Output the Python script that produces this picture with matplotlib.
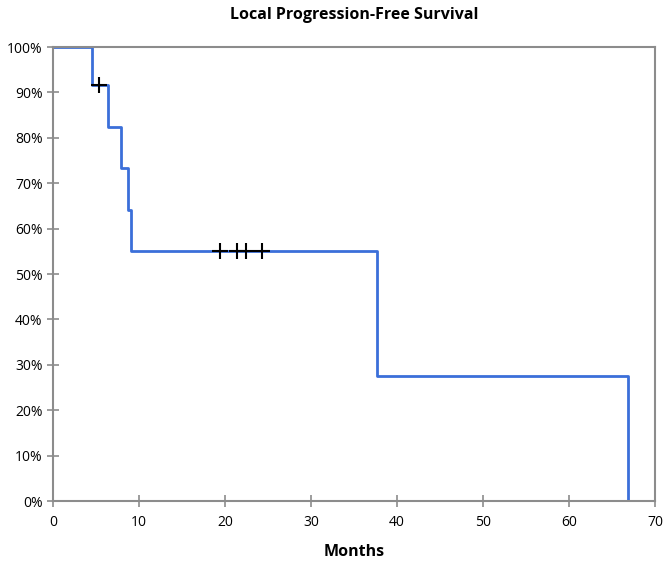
import matplotlib
matplotlib.use("Agg")
import matplotlib.pyplot as plt
from matplotlib.ticker import PercentFormatter

# Kaplan-Meier steps (months, survival %)
step_times = [0, 4.5, 6.4, 7.9, 8.7, 9.1, 37.7, 66.9]
step_surv = [100, 91.7, 82.5, 73.3, 64.2, 55.0, 27.5, 0.0]
censor_times = [5.4, 19.4, 21.4, 22.4, 24.3]
censor_surv = [91.7, 55.0, 55.0, 55.0, 55.0]

plt.rcParams['font.family'] = ['Open Sans', 'DejaVu Sans']

fig = plt.figure(figsize=(6.63, 5.67), dpi=100)
ax = fig.add_axes([0.080, 0.1164, 0.908, 0.8006])

ax.step(step_times, step_surv, where='post', color='#3b6fd9', linewidth=2, zorder=2)
ax.plot(censor_times, censor_surv, linestyle='none', marker='+', markersize=11,
        markeredgewidth=1.5, color='black', zorder=3)

ax.set_xlim(0, 70)
ax.set_ylim(0, 100)
ax.set_xticks(range(0, 71, 10))
ax.set_yticks(range(0, 101, 10))
ax.yaxis.set_major_formatter(PercentFormatter(decimals=0))

for s in ax.spines.values():
    s.set_color('#8c8c8c')
    s.set_linewidth(1.5)
ax.tick_params(direction='inout', length=8, width=1.2, color='#8c8c8c',
               labelsize=10, labelcolor='black')
ax.tick_params(axis='x', pad=6)

ax.set_title('Local Progression-Free Survival', fontweight='bold', fontsize=11.5, pad=20)
ax.set_xlabel('Months', fontweight='bold', fontsize=11.5, labelpad=10)

fig.savefig('out.png', dpi=100)
